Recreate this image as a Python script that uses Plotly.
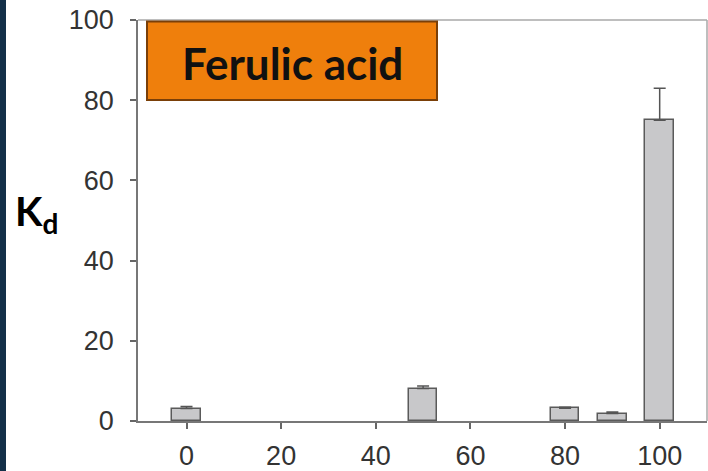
import plotly.graph_objects as go

# Data
x_vals = [0, 50, 80, 90, 100]
kd_vals = [3.1, 8.1, 3.2, 1.85, 75.0]
kd_err = [0.5, 0.6, 0.2, 0.4, 8.0]
x_ticks = [0, 20, 40, 60, 80, 100]
y_ticks = [0, 20, 40, 60, 80, 100]
title_text = "Ferulic acid"

W, H = 708, 471
ML, MR, MT, MB = 138, 1, 20, 50
PW = W - ML - MR
PH = H - MT - MB

def px(xp):
    return (xp - ML) / PW

def py(yp):
    return (H - MB - yp) / PH

fig = go.Figure()
fig.add_trace(go.Bar(
    x=x_vals, y=kd_vals, width=6,
    marker=dict(color="#c8c8ca", line=dict(color="#5a5a5a", width=1.5)),
    error_y=dict(type="data", array=kd_err, arrayminus=[0] * len(kd_err),
                 symmetric=False, color="#555555", thickness=1.5, width=6),
    showlegend=False,
))

tickfont = dict(family="Liberation Sans, Arial, sans-serif", size=27, color="#333333")

fig.update_layout(
    width=W, height=H,
    margin=dict(l=ML, r=MR, t=MT, b=MB, pad=0, autoexpand=False),
    paper_bgcolor="white", plot_bgcolor="white",
    xaxis=dict(range=[-10.25, 110], tickvals=x_ticks, ticktext=[str(v) for v in x_ticks],
               ticks="outside", ticklen=6, tickcolor="#666666", tickwidth=1.5,
               showline=True, linecolor="#777777", linewidth=1.5,
               showgrid=False, zeroline=False, tickfont=tickfont,
               ticklabelstandoff=4, automargin=False),
    yaxis=dict(range=[0, 100], tickvals=y_ticks, ticktext=[str(v) for v in y_ticks],
               ticks="outside", ticklen=6, tickcolor="#666666", tickwidth=1.5,
               showline=True, linecolor="#777777", linewidth=1.5,
               showgrid=False, zeroline=False, tickfont=tickfont,
               ticklabelstandoff=11, automargin=False),
    bargap=0,
)

shapes = [
    # dark strip at the left edge
    dict(type="rect", xref="paper", yref="paper", x0=px(-5), x1=px(6), y0=py(H + 10), y1=py(-10),
         fillcolor="#143049", line=dict(width=0), layer="above"),
    # top and right frame lines
    dict(type="line", xref="paper", yref="paper", x0=0, x1=1, y0=1, y1=1,
         line=dict(color="#a8a8a8", width=1.5)),
    dict(type="line", xref="paper", yref="paper", x0=1, x1=1, y0=0, y1=1,
         line=dict(color="#a8a8a8", width=1.5)),
    # orange title box
    dict(type="rect", xref="paper", yref="paper", x0=px(147), x1=px(437), y0=py(100), y1=py(21.5),
         fillcolor="#ef7f0c", line=dict(color="#7a3f08", width=2), layer="above"),
]
fig.update_layout(shapes=shapes)

fig.add_annotation(xref="paper", yref="paper", x=px(292), y=py(63), xanchor="center", yanchor="middle",
                   text="<b>" + title_text + "</b>", showarrow=False,
                   font=dict(family="Lato, sans-serif", size=44, color="#111111"))
fig.add_annotation(xref="paper", yref="paper", x=px(13), y=py(213), xanchor="left", yanchor="middle",
                   text="<b>K<sub>d</sub></b>", showarrow=False,
                   font=dict(family="Lato, sans-serif", size=40, color="#000000"))

fig.write_html("out.html", config={"displayModeBar": False},
               post_script="document.body.style.margin='0';document.body.style.overflow='hidden';")
